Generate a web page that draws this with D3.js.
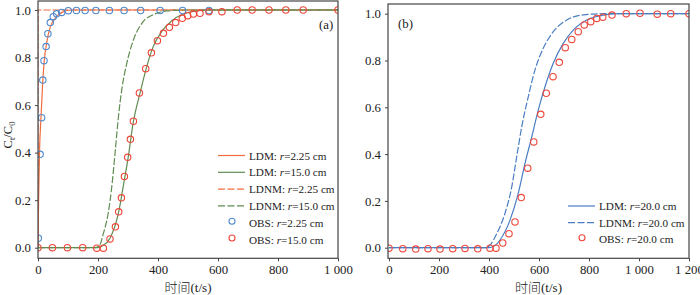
<!DOCTYPE html>
<html>
<head>
<meta charset="utf-8">
<script src="https://cdn.jsdelivr.net/npm/d3@7"></script>
<style>
  body { margin: 0; background: #fff; }
  svg text { font-family: "Liberation Serif", "Times New Roman", serif; fill: #222; }
</style>
</head>
<body>
<svg id="chart" width="700" height="295"></svg>
<script>
// ---- data ----
// panel (a)
const obsA225 = [[1,0.04],[7,0.393],[12,0.547],[16,0.705],[20,0.787],[27,0.846],[33,0.90],[41,0.947],
  [51,0.972],[62,0.984],[79,0.99],[101,0.997],[128,0.998],[157,0.998],[193,0.998],[238,0.998],
  [287,0.998],[342,0.998],[407,0.998],[482,0.998],[570,0.998]];
const obsA150 = [[0,0],[48,0],[98,0],[149,0],[196,-0.002],[218,-0.002],[240,0.037],[258,0.088],
  [269,0.151],[278,0.21],[288,0.30],[299,0.38],[308,0.456],[318,0.532],[338,0.651],[359,0.753],
  [378,0.82],[398,0.871],[418,0.902],[438,0.927],[459,0.947],[481,0.965],[499,0.976],[518,0.983],
  [540,0.986],[570,0.993],[613,0.993],[664,1.0],[714,1.0],[770,1.0],[826,1.0],[884,1.0],[1000,1.0]];
const ldmA225 = [[0,0],[2,0.2],[5,0.4],[10,0.55],[15,0.68],[20,0.775],[30,0.87],[40,0.925],
  [57,0.965],[80,0.99],[110,1.0],[1000,1.0]];
const ldnmA225 = [[0,0],[0.5,1.0],[1000,1.0]];
const ldmA150 = [[0,0],[200,0],[215,0.008],[240,0.04],[268,0.145],[284,0.257],[301,0.383],[318,0.53],
  [340,0.65],[362,0.76],[384,0.846],[412,0.909],[446,0.955],[484,0.983],[529,0.996],[573,1.0],[1000,1.0]];
const ldnmA150 = [[0,0],[190,0],[205,0.01],[218,0.06],[234,0.145],[246,0.257],[257,0.40],[268,0.55],
  [279,0.663],[296,0.776],[318,0.874],[346,0.944],[384,0.98],[429,0.996],[484,1.0],[1000,1.0]];

// panel (b)
const obsB200 = [[0,-0.002],[55,-0.004],[107,-0.006],[156,-0.004],[204,-0.006],[255,-0.004],[304,-0.003],
  [355,-0.005],[404,-0.002],[428,-0.002],[455,0.02],[480,0.06],[504,0.11],[529,0.214],[555,0.34],
  [579,0.452],[607,0.57],[629,0.66],[656,0.731],[681,0.792],[705,0.855],[731,0.89],[757,0.923],
  [781,0.952],[807,0.966],[831,0.98],[855,0.985],[892,0.994],[949,1.0],[1004,1.002],[1073,0.998],
  [1127,1.0],[1200,1.0]];
const ldmB200 = [[0,0],[400,0],[420,0.006],[444,0.033],[484,0.118],[517,0.232],[544,0.36],[571,0.474],
  [597,0.588],[624,0.688],[657,0.788],[697,0.873],[737,0.93],[791,0.973],[857,0.994],[924,1.0],[1200,1.0]];
const ldnmB200 = [[0,0],[385,0],[405,0.012],[431,0.06],[464,0.147],[491,0.26],[511,0.39],[531,0.517],
  [557,0.645],[584,0.76],[617,0.852],[657,0.923],[711,0.973],[777,0.995],[857,1.0],[1200,1.0]];

const yTicks = [0, 0.2, 0.4, 0.6, 0.8, 1.0];
const xTicksA = [0, 200, 400, 600, 800, 1000];
const xTicksB = [0, 200, 400, 600, 800, 1000, 1200];

const orange = "#f26d3d", green = "#5f8c50", blueObs = "#4f89cc", redObs = "#ef463a", blueLine = "#4a7ec4";
const serif = "'Liberation Serif', 'Times New Roman', serif";

const svg = d3.select("#chart");
const fmtX = d => d >= 1000 ? d3.format(",")(d).replace(",", " ") : String(d);

function drawPanel(cfg) {
    const x = d3.scaleLinear().domain(cfg.xDomain).range([cfg.x0, cfg.x1]);
    const y = d3.scaleLinear().domain([0, 1]).range([247.7, cfg.yTop1]);
    const g = svg.append("g");

    const clipId = "clip" + cfg.id;
    svg.append("clipPath").attr("id", clipId)
        .append("rect")
        .attr("x", cfg.fx0).attr("y", cfg.fy0)
        .attr("width", cfg.fx1 - cfg.fx0).attr("height", cfg.fy1 - cfg.fy0);

    // axes (ticks outward)
    g.append("g")
        .attr("transform", `translate(0,${cfg.fy1})`)
        .call(d3.axisBottom(x).tickValues(cfg.xTicks).tickSize(3).tickPadding(4).tickFormat(fmtX))
        .call(a => a.select(".domain").remove())
        .attr("font-family", serif).attr("font-size", 12.8)
        .selectAll("text").attr("fill", "#222");
    g.append("g")
        .attr("transform", `translate(${cfg.fx0},0)`)
        .call(d3.axisLeft(y).tickValues(yTicks).tickSize(3).tickPadding(4).tickFormat(d3.format(".1f")))
        .call(a => a.select(".domain").remove())
        .attr("font-family", serif).attr("font-size", 12.8)
        .selectAll("text").attr("fill", "#222");
    g.selectAll(".tick line").attr("stroke", "#444");

    const plot = g.append("g").attr("clip-path", `url(#${clipId})`);
    const line = d3.line().x(d => x(d[0])).y(d => y(d[1])).curve(d3.curveMonotoneX);

    cfg.lines.forEach(l => {
        plot.append("path")
            .attr("d", line(l.data))
            .attr("fill", "none")
            .attr("stroke", l.color)
            .attr("stroke-width", 1.2)
            .attr("stroke-dasharray", l.dash ? "7,2" : null);
    });
    cfg.obs.forEach(o => {
        plot.selectAll(null)
            .data(o.data)
            .enter()
            .append("circle")
            .attr("cx", d => x(d[0]))
            .attr("cy", d => y(d[1]))
            .attr("r", 3.2)
            .attr("fill", "none")
            .attr("stroke", o.color)
            .attr("stroke-width", 1.1);
    });

    // frame
    g.append("rect")
        .attr("x", cfg.fx0).attr("y", cfg.fy0)
        .attr("width", cfg.fx1 - cfg.fx0).attr("height", cfg.fy1 - cfg.fy0)
        .attr("fill", "none").attr("stroke", "#444").attr("stroke-width", 1.2);

    // panel label
    g.append("text")
        .attr("x", cfg.labelX).attr("y", cfg.labelY)
        .style("font-size", "12.8px")
        .text(cfg.label);

    // x-axis title
    g.append("text")
        .attr("x", (cfg.fx0 + cfg.fx1) / 2)
        .attr("y", 292)
        .attr("text-anchor", "middle")
        .style("font-size", "13px")
        .style("font-family", "'Liberation Serif', 'Noto Sans CJK SC', serif")
        .style("font-weight", 300)
        .text("时间(t/s)");

    // legend
    const lg = g.append("g");
    cfg.legend.forEach((item, i) => {
        const ly = cfg.legY + i * cfg.legStep;
        if (item.type === "line") {
            lg.append("line")
                .attr("x1", cfg.legX).attr("x2", cfg.legX + 27)
                .attr("y1", ly).attr("y2", ly)
                .attr("stroke", item.color).attr("stroke-width", 1.2)
                .attr("stroke-dasharray", item.dash ? "7,2.5" : null);
        } else {
            lg.append("circle")
                .attr("cx", cfg.legX + 14).attr("cy", ly - 1.5).attr("r", 3)
                .attr("fill", "none").attr("stroke", item.color).attr("stroke-width", 1.1);
        }
        const t = lg.append("text")
            .attr("x", cfg.legX + 31).attr("y", ly + 4)
            .style("font-size", "11.2px");
        t.append("tspan").text(item.name + ": ");
        t.append("tspan").style("font-style", "italic").text("r");
        t.append("tspan").text("=" + item.r + " cm");
    });
}

drawPanel({
    id: "a", xDomain: [0, 1000], x0: 38, x1: 338, yTop1: 10,
    fx0: 38, fx1: 338, fy0: 1, fy1: 258.3, xTicks: xTicksA,
    label: "(a)", labelX: 319, labelY: 29,
    lines: [
        { data: ldnmA225, color: orange, dash: true },
        { data: ldmA225, color: orange, dash: false },
        { data: ldnmA150, color: green, dash: true },
        { data: ldmA150, color: green, dash: false }
    ],
    obs: [{ data: obsA225, color: blueObs }, { data: obsA150, color: redObs }],
    legX: 218, legY: 155.5, legStep: 16.8,
    legend: [
        { type: "line", color: orange, name: "LDM", r: "2.25" },
        { type: "line", color: green, name: "LDM", r: "15.0" },
        { type: "line", color: orange, dash: true, name: "LDNM", r: "2.25" },
        { type: "line", color: green, dash: true, name: "LDNM", r: "15.0" },
        { type: "obs", color: blueObs, name: "OBS", r: "2.25" },
        { type: "obs", color: redObs, name: "OBS", r: "15.0" }
    ]
});

drawPanel({
    id: "b", xDomain: [0, 1200], x0: 389, x1: 689, yTop1: 13.7,
    fx0: 388, fx1: 689, fy0: 4, fy1: 258.3, xTicks: xTicksB,
    label: "(b)", labelX: 398, labelY: 28,
    lines: [
        { data: ldnmB200, color: blueLine, dash: true },
        { data: ldmB200, color: blueLine, dash: false }
    ],
    obs: [{ data: obsB200, color: redObs }],
    legX: 568, legY: 206, legStep: 16.6,
    legend: [
        { type: "line", color: blueLine, name: "LDM", r: "20.0" },
        { type: "line", color: blueLine, dash: true, name: "LDNM", r: "20.0" },
        { type: "obs", color: redObs, name: "OBS", r: "20.0" }
    ]
});

// y-axis title C_t/C_0
const yt = svg.append("text")
    .attr("transform", "translate(12,135) rotate(-90)")
    .attr("text-anchor", "middle")
    .style("font-size", "12.5px");
yt.append("tspan").text("C");
yt.append("tspan").attr("dy", 3).style("font-size", "8.5px").text("t");
yt.append("tspan").attr("dy", -3).text("/C");
yt.append("tspan").attr("dy", 3).style("font-size", "8.5px").text("0");
</script>
</body>
</html>
